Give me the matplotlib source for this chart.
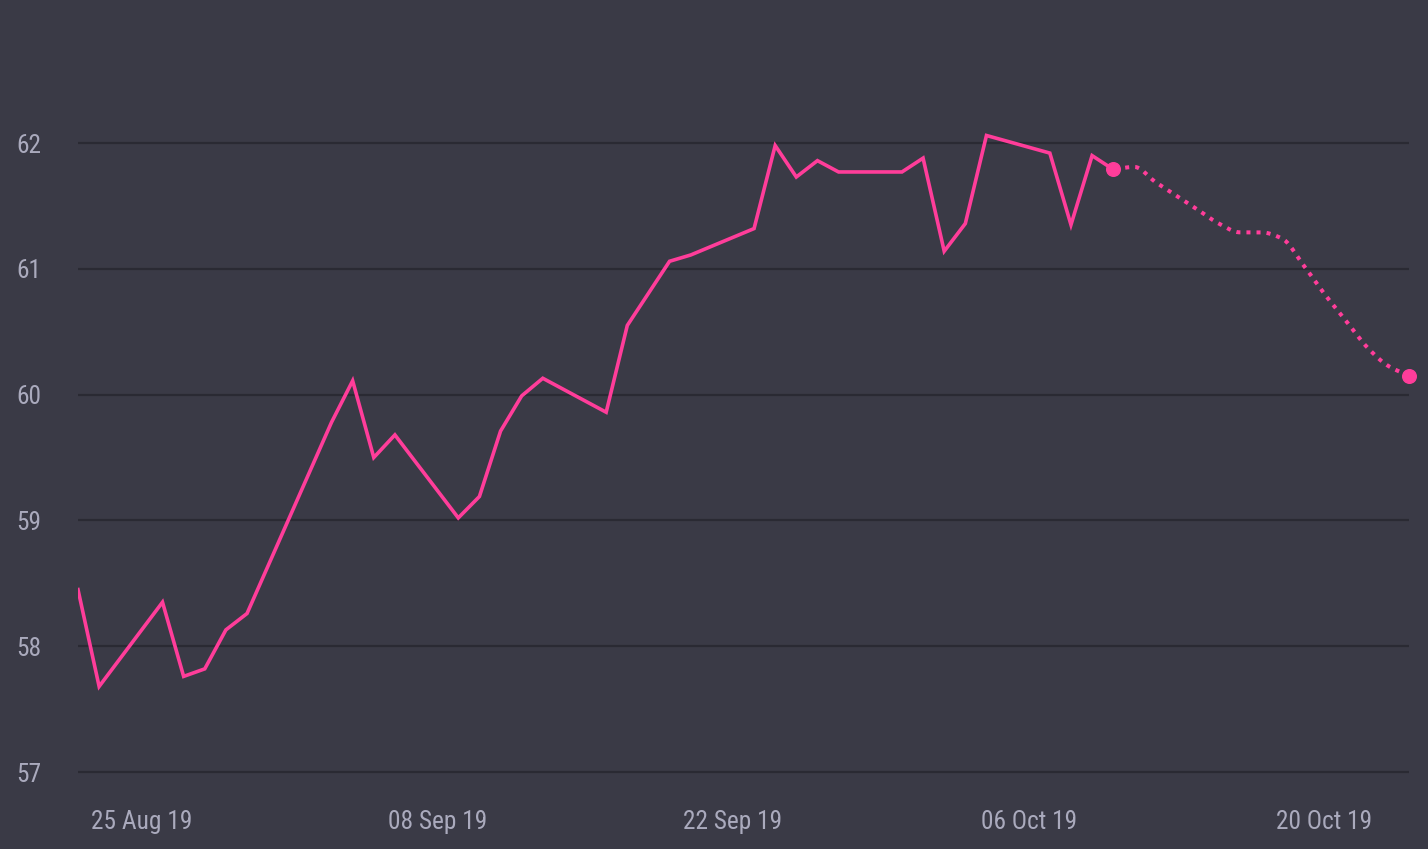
import numpy as np
import pandas as pd
import matplotlib
matplotlib.use("Agg")
import matplotlib.pyplot as plt
import matplotlib.dates as mdates

# observed closing values (trading days only)
obs_dates = ["2019-08-22", "2019-08-23", "2019-08-26", "2019-08-27", "2019-08-28",
             "2019-08-29", "2019-08-30", "2019-09-03", "2019-09-04", "2019-09-05",
             "2019-09-06", "2019-09-09", "2019-09-10", "2019-09-11", "2019-09-12",
             "2019-09-13", "2019-09-16", "2019-09-17", "2019-09-19", "2019-09-20",
             "2019-09-23", "2019-09-24", "2019-09-25", "2019-09-26", "2019-09-27",
             "2019-09-30", "2019-10-01", "2019-10-02", "2019-10-03", "2019-10-04",
             "2019-10-07", "2019-10-08", "2019-10-09", "2019-10-10"]
obs_values = [58.45, 57.68, 58.35, 57.76, 57.82,
              58.13, 58.26, 59.78, 60.11, 59.50,
              59.68, 59.02, 59.19, 59.71, 59.99,
              60.13, 59.86, 60.55, 61.06, 61.11,
              61.32, 61.98, 61.73, 61.86, 61.77,
              61.77, 61.88, 61.14, 61.36, 62.06,
              61.92, 61.35, 61.90, 61.79]

# forecast
fc_dates = pd.date_range("2019-10-10", "2019-10-24", freq="D")
fc_values = [61.79, 61.81, 61.69, 61.58, 61.47, 61.36, 61.29, 61.29,
             61.24, 61.03, 60.80, 60.59, 60.38, 60.23, 60.15]

tick_dates = ["2019-08-25", "2019-09-08", "2019-09-22", "2019-10-06", "2019-10-20"]
y_ticks = [57, 58, 59, 60, 61, 62]

BG = "#3a3a46"
PINK = "#ff3d9a"
GRID = "#2a2a33"
TXT = "#aaaabd"

plt.rcParams['font.family'] = ['Roboto Condensed', 'Liberation Sans Narrow', 'Roboto', 'DejaVu Sans']


def monotone(x, y, n=20):
    # Fritsch-Carlson monotone cubic, just for drawing the smooth forecast curve
    x = np.asarray(x, float)
    y = np.asarray(y, float)
    h = np.diff(x)
    d = np.diff(y) / h
    m = np.zeros_like(y)
    m[0], m[-1] = d[0], d[-1]
    for i in range(1, len(y) - 1):
        if d[i - 1] * d[i] <= 0:
            m[i] = 0
        else:
            w1 = 2 * h[i] + h[i - 1]
            w2 = h[i] + 2 * h[i - 1]
            m[i] = (w1 + w2) / (w1 / d[i - 1] + w2 / d[i])
    xs, ys = [], []
    for i in range(len(h)):
        t = np.linspace(0, 1, n, endpoint=False)
        h00 = 2 * t**3 - 3 * t**2 + 1
        h10 = t**3 - 2 * t**2 + t
        h01 = -2 * t**3 + 3 * t**2
        h11 = t**3 - t**2
        xs.append(x[i] + t * h[i])
        ys.append(h00 * y[i] + h10 * h[i] * m[i] + h01 * y[i + 1] + h11 * h[i] * m[i + 1])
    xs.append([x[-1]])
    ys.append([y[-1]])
    return np.concatenate(xs), np.concatenate(ys)


fig = plt.figure(figsize=(14.28, 8.49), dpi=100, facecolor=BG)
ax = fig.add_axes([78 / 1428, 59 / 849, 1331 / 1428, 790 / 849])
ax.set_facecolor(BG)

od = mdates.date2num(pd.to_datetime(obs_dates))
ax.plot(od, obs_values, color=PINK, lw=2.6, solid_joinstyle="miter", zorder=3)

fx = mdates.date2num(fc_dates)
sx, sy = monotone(fx, fc_values)
ax.plot(sx, sy, color=PINK, lw=2.9, linestyle=(2.0, (1, 1.5)),
        dash_capstyle="butt", zorder=3)
ax.plot([fx[0], fx[-1]], [fc_values[0], fc_values[-1]], "o", color=PINK,
        ms=9.8, clip_on=False, zorder=4)

ax.set_xlim(mdates.date2num(pd.Timestamp("2019-08-22")),
            mdates.date2num(pd.Timestamp("2019-10-24")))
ax.set_ylim(56.857, 63.137)

ax.set_yticks(y_ticks)
ax.set_xticks(mdates.date2num(pd.to_datetime(tick_dates)))
ax.xaxis.set_major_formatter(mdates.DateFormatter("%d %b %y"))
ax.grid(axis="y", color=GRID, lw=1.6)
ax.set_axisbelow(True)
for s in ax.spines.values():
    s.set_visible(False)
ax.tick_params(length=0, colors=TXT, labelsize=18.3)
ax.tick_params(axis="y", pad=26.5)
ax.tick_params(axis="x", pad=14.5)

fig.savefig("out.png", dpi=100, facecolor=BG)
